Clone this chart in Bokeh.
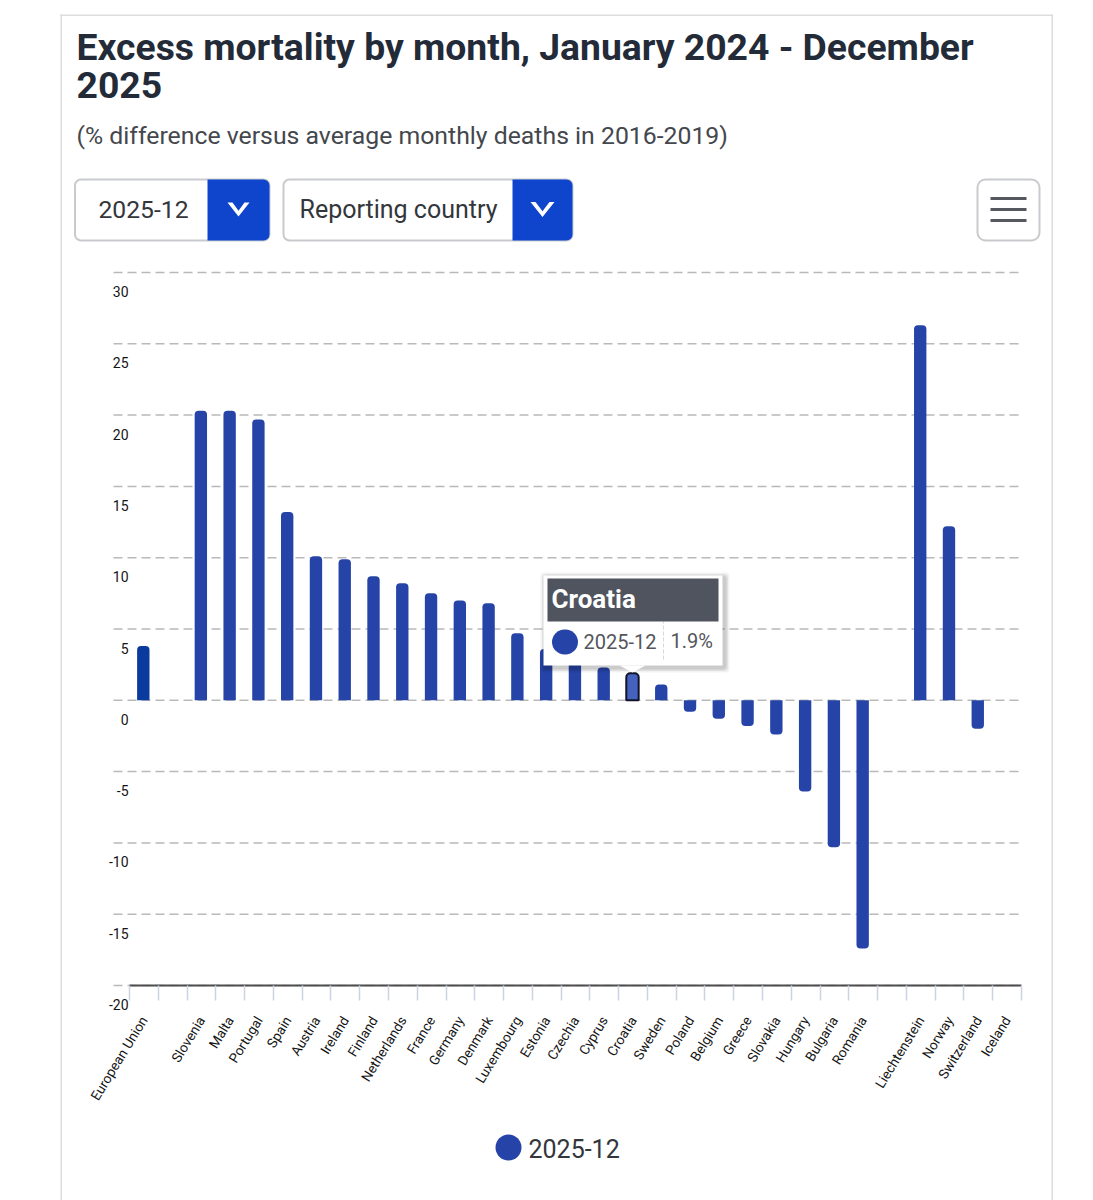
import math
from bokeh.plotting import figure
from bokeh.embed import file_html
from bokeh.resources import INLINE
from bokeh.models import (Range1d, FixedTicker, LinearAxis, BoxAnnotation, Label,
                          PolyAnnotation)

countries = ["European Union", "", "Slovenia", "Malta", "Portugal", "Spain", "Austria", "Ireland",
             "Finland", "Netherlands", "France", "Germany", "Denmark", "Luxembourg", "Estonia",
             "Czechia", "Cyprus", "Croatia", "Sweden", "Poland", "Belgium", "Greece", "Slovakia",
             "Hungary", "Bulgaria", "Romania", "", "Liechtenstein", "Norway", "Switzerland", "Iceland"]
values = [3.8, None, 20.3, 20.3, 19.7, 13.2, 10.1, 9.9,
          8.7, 8.2, 7.5, 7.0, 6.8, 4.7, 3.6,
          2.7, 2.3, 1.9, 1.1, -0.8, -1.3, -1.8, -2.4,
          -6.4, -10.3, -17.4, None, 26.3, 12.2, -2.0, None]
y_ticks = [-20, -15, -10, -5, 0, 5, 10, 15, 20, 25, 30]
series_name = "2025-12"
title_lines = ["Excess mortality by month, January 2024 - December", "2025"]
subtitle = "(% difference versus average monthly deaths in 2016-2019)"

W, H = 1093, 1200
FONT = "Roboto"
# pixel geometry of the plot area: the frame fills the page and the ranges place the chart in it
AX_L, AX_R, GRID_L, Y_TOP, Y_BOT = 129, 1021, 113, 272, 985
ux = (AX_R - AX_L) / len(countries)
uy = (Y_BOT - Y_TOP) / (max(y_ticks) - min(y_ticks))
x0_px = AX_L
y0_px = Y_TOP + max(y_ticks) * uy

p = figure(width=W, height=H, output_backend="svg", toolbar_location=None,
           x_range=Range1d(-x0_px / ux, (W - x0_px) / ux),
           y_range=Range1d((y0_px - H) / uy, y0_px / uy),
           x_axis_location=None, y_axis_location=None, tools="", min_border=0)
p.outline_line_color = None
p.background_fill_color = "white"
p.border_fill_color = "white"
p.grid.visible = False

# gridlines
grid_left = (GRID_L - AX_L) / ux
g = p.segment(x0=[grid_left] * len(y_ticks), x1=[len(countries)] * len(y_ticks), y0=y_ticks, y1=y_ticks,
              line_color="#b9b9b9", line_width=1.5)
g.glyph.line_dash = [9, 5]

# bars, split by rounding direction and highlight
idx = [i for i, v in enumerate(values) if v is not None]
BAR_C = 0.48
def bars(ids, color, line=None):
    pos = [i for i in ids if values[i] >= 0]
    neg = [i for i in ids if values[i] < 0]
    kw = dict(width=0.43, fill_color=color, line_color=line, line_width=2 if line else 0)
    if pos:
        p.vbar(x=[i + BAR_C for i in pos], bottom=0, top=[values[i] for i in pos],
               border_radius=(4, 4, 0, 0), **kw)
    if neg:
        p.vbar(x=[i + BAR_C for i in neg], top=0, bottom=[values[i] for i in neg],
               border_radius=(0, 0, 4, 4), **kw)
eu = countries.index("European Union")
cro = countries.index("Croatia")
bars([i for i in idx if i not in (eu, cro)], "#2644A7")
bars([eu], "#0A3A9E")
bars([cro], "#4562BF", "#10142a")

# x axis: labels on major ticks at bar centres, tick marks as minor ticks at the band edges
centers = [i + 0.5 for i, c in enumerate(countries) if c]
ax = LinearAxis(ticker=FixedTicker(ticks=centers, minor_ticks=list(range(len(countries) + 1))),
                major_label_overrides={i + 0.5: c for i, c in enumerate(countries) if c},
                bounds=(0, len(countries)), fixed_location=min(y_ticks))
ax.axis_line_color = "#4d4d4f"
ax.axis_line_width = 2
ax.major_tick_line_color = None
ax.major_tick_out = 0
ax.major_tick_in = 0
ax.minor_tick_line_color = "#ccd3e3"
ax.minor_tick_line_width = 1.5
ax.minor_tick_out = 15
ax.minor_tick_in = 0
ax.major_label_orientation = math.radians(58.5)
ax.major_label_standoff = 17
ax.major_label_text_font = FONT
ax.major_label_text_font_size = "13.6px"
ax.major_label_text_color = "#141414"
p.add_layout(ax, "below")

# y tick labels sit under their gridlines, Highcharts style
for v in y_ticks:
    p.add_layout(Label(x=0, y=v, text=str(v), y_offset=-19, x_offset=-1, text_align="right",
                       text_baseline="middle", text_font=FONT, text_font_size="14px",
                       text_color="#141414"))

# page furniture, in page pixels
def box(x0, y0, x1, y1, fill="white", line=None, lw=1, radius=0, alpha=1.0, dash=None):
    b = BoxAnnotation(left=x0, right=x1, top=y0, bottom=y1,
                      left_units="canvas", right_units="canvas", top_units="canvas", bottom_units="canvas",
                      fill_color=fill, fill_alpha=alpha if fill else 0, line_color=line,
                      line_width=lw, border_radius=radius, level="overlay", editable=False)
    if dash:
        b.line_dash = dash
    p.add_layout(b)

def text(x, y, s, size, color, style="normal", align="left"):
    p.add_layout(Label(x=x, y=y, x_units="canvas", y_units="canvas", text=s,
                       text_font=FONT, text_font_size=f"{size}px", text_color=color,
                       text_font_style=style, text_align=align, text_baseline="middle", level="overlay"))

def poly(xs, ys, fill):
    p.add_layout(PolyAnnotation(xs=list(xs), ys=list(ys),
                                xs_units="canvas", ys_units="canvas",
                                fill_color=fill, fill_alpha=1, line_color=None, level="overlay"))

def chevron(cx, cy, w, h, t):
    poly([cx - w, cx - w + t, cx, cx + w - t, cx + w, cx],
         [cy - h, cy - h, cy + h - t * 1.15, cy - h, cy - h, cy + h], "white")

# card edges
box(60, 14, 61.5, 1200, fill="#dcdcdc")
box(1051, 14, 1052.5, 1200, fill="#dcdcdc")
box(60, 14, 1052.5, 15.5, fill="#dcdcdc")

text(76, 46, title_lines[0], 37.3, "#232b38", "bold")
text(76, 84, title_lines[1], 37.3, "#232b38", "bold")
text(76, 135, subtitle, 24.8, "#44474d")

# dropdowns
BLUE = "#0E45CC"
BORDER = "#4c5059"
box(74.5, 179, 269, 240, fill="white", line=BORDER, lw=2, radius=6)
box(207, 179, 269, 240, fill=BLUE, radius=(0, 6, 6, 0))
text(98, 209, series_name, 24.7, "#33363b")
chevron(238, 209, 11, 7, 5)
box(283, 179, 572, 240, fill="white", line=BORDER, lw=2, radius=6)
box(512, 179, 572, 240, fill=BLUE, radius=(0, 6, 6, 0))
text(299, 209, "Reporting country", 25, "#33363b")
chevron(542, 209, 12, 7.5, 5)

# menu button
box(977, 179, 1039, 240, fill="white", line=BORDER, lw=2, radius=8)
for yy in (198, 209, 220):
    box(990, yy - 1.5, 1026, yy + 1.5, fill="#55585e")

# tooltip
for d, a in ((5, 0.05), (3.5, 0.07), (2, 0.09)):
    box(543 - d + 2, 575 - d + 2, 722 + d + 2, 665 + d + 2, fill="#000000", alpha=a, radius=4)
box(543, 575, 722, 665, fill="white")
poly([619, 645, 632], [665, 665, 672], "white")
box(547, 578, 718, 621, fill="#50545F")
text(551, 598, "Croatia", 26, "white", "bold")
box(551.5, 629, 577.5, 654, fill="#2644A7", radius=13)
text(583, 640.5, series_name, 20, "#54565b")
text(670, 640.5, "1.9%", 20, "#54565b")
box(663, 621, 663, 660, fill=None, line="#777777", lw=1, dash="dotted")

# legend
box(495, 1134, 521, 1160, fill="#2644A7", radius=13)
text(528, 1148, series_name, 25, "#33363b")

open("out.html", "w").write(file_html(p, INLINE))
